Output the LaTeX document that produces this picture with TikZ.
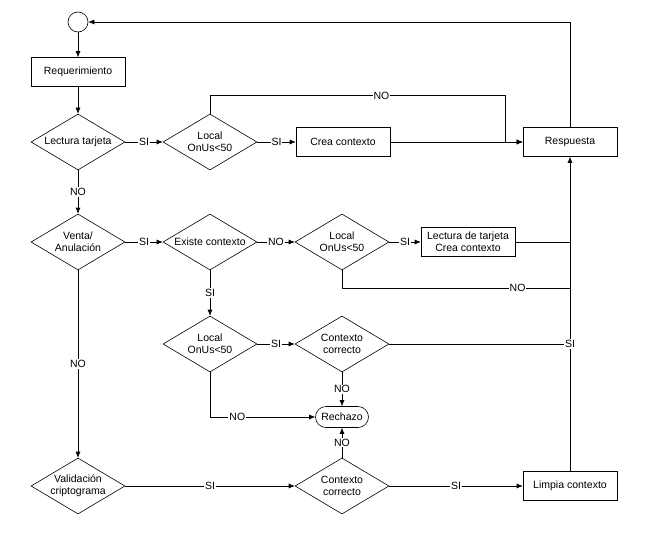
\documentclass[tikz,border=0pt]{standalone}
\usepackage{fontspec}
\setmainfont{Liberation Sans}
\usetikzlibrary{arrows.meta,positioning,calc,shapes.geometric,shapes.misc}

\begin{document}
\begin{tikzpicture}[on grid, >={Latex[length=6pt,width=5pt]}, line width=0.6pt,
  every node/.style={font=\fontsize{10.5}{12}\selectfont},
  box/.style={draw, rectangle, minimum width=94pt, minimum height=29pt, align=center},
  dec/.style={draw, diamond, aspect=1.68, inner sep=0pt, minimum width=94pt, minimum height=56pt, align=center},
  lbl/.style={fill=white, inner sep=1pt}]
  \useasboundingbox (0,0) rectangle (669pt,-551pt);

  \node[draw, circle, minimum size=20pt, inner sep=0pt] (ini) at (78pt,-22pt) {};
  \node[box, below=50pt of ini] (req) {Requerimiento};
  \node[dec, below=70pt of req] (lt) {Lectura tarjeta};
  \node[dec, right=132pt of lt] (loc1) {Local\\OnUs<50};
  \node[box, right=133pt of loc1] (crea) {Crea contexto};
  \node[box, right=227pt of crea] (resp) {Respuesta};

  \node[dec, below=100pt of lt] (va) {Venta/\\Anulación};
  \node[dec, right=132pt of va] (ec) {Existe contexto};
  \node[dec, right=132pt of ec] (loc2) {Local\\OnUs<50};
  \node[box, right=126pt of loc2] (ltc) {Lectura de tarjeta\\Crea contexto};

  \node[dec, below=102pt of ec] (loc3) {Local\\OnUs<50};
  \node[dec, right=132pt of loc3] (cc1) {Contexto\\correcto};
  \node[draw, rounded rectangle, minimum width=57pt, minimum height=21pt, inner sep=2pt, below=73pt of cc1] (rech) {Rechazo};
  \node[dec, below=142pt of cc1] (cc2) {Contexto\\correcto};
  \node[dec, below=244pt of va] (vc) {Validación\\criptograma};
  \node[box, right=228pt of cc2] (limp) {Limpia contexto};

  \draw[->] (ini) -- (req);
  \draw[->] (req) -- (lt);
  \draw[->] (lt) -- node[lbl] {SI} (loc1);
  \draw[->] (loc1) -- node[lbl] {SI} (crea);
  \draw[->] (crea) -- (resp);
  \coordinate (nt) at ($(loc1.north)+(0,18pt)$);
  \coordinate (jn) at ($(resp.west)+(-17pt,0)$);
  \draw[->] (loc1.north) -- (nt) -- node[lbl, pos=0.58] {NO} (nt -| jn) -- (jn) -- (resp.west);
  \draw[->] (resp.north) |- (ini.east);

  \draw[->] (limp) -- (resp);
  \draw[->] (lt) -- node[lbl] {NO} (va);
  \draw[->] (va) -- node[lbl] {SI} (ec);
  \draw[->] (ec) -- node[lbl] {NO} (loc2);
  \draw[->] (loc2) -- node[lbl] {SI} (ltc);
  \draw (ltc.east) -- (ltc.east -| resp.south);
  \coordinate (nb) at ($(loc2.south)+(0,-18pt)$);
  \draw (loc2.south) -- (nb) -- node[lbl, pos=0.77] {NO} (nb -| resp.south);

  \draw[->] (ec) -- node[lbl] {SI} (loc3);
  \draw[->] (loc3) -- node[lbl] {SI} (cc1);
  \draw (cc1.east) -- node[lbl, pos=1] {SI} (cc1.east -| resp.south);
  \draw[->] (cc1) -- node[lbl] {NO} (rech);
  \draw[->] (loc3.south) |- node[lbl, pos=0.63] {NO} (rech.west);
  \draw[->] (cc2) -- node[lbl] {NO} (rech);

  \draw[->] (va) -- node[lbl] {NO} (vc);
  \draw[->] (vc) -- node[lbl] {SI} (cc2);
  \draw[->] (cc2) -- node[lbl] {SI} (limp);
\end{tikzpicture}
\end{document}
